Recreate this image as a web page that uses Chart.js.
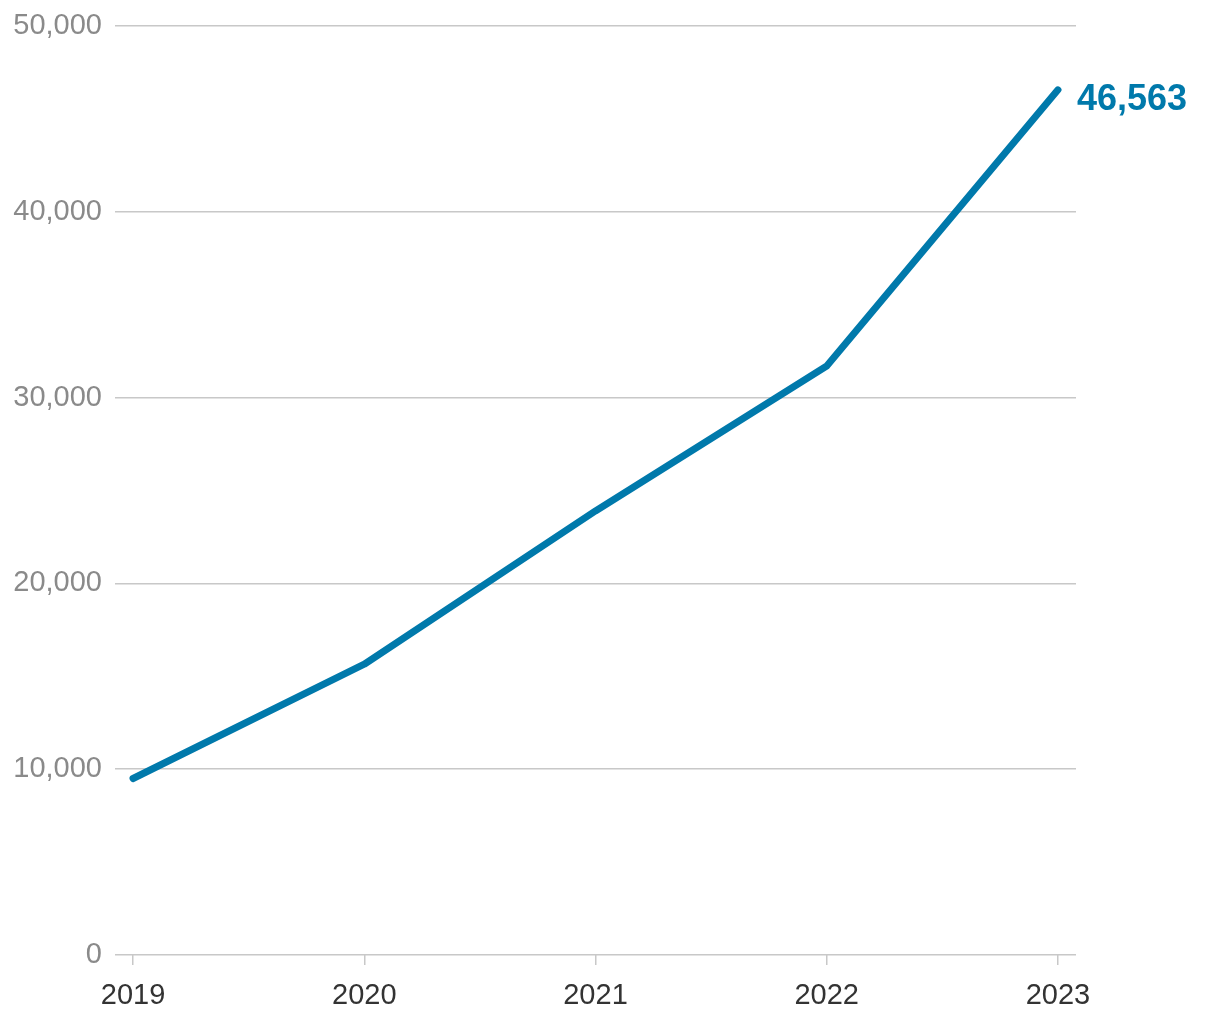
<!DOCTYPE html>
<html>
<head>
<meta charset="utf-8">
<script src="https://cdn.jsdelivr.net/npm/chart.js@4.4.1/dist/chart.umd.min.js"></script>
<style>
  body { margin: 0; background: #fff; }
  #wrap { width: 1220px; height: 1020px; position: relative; }
</style>
</head>
<body>
<div id="wrap"><canvas id="lineChart"></canvas></div>
<script>
// chart data
const years = [2019, 2020, 2021, 2022, 2023];
const values = [9500, 15650, 23900, 31700, 46563];
const yTicks = [0, 10000, 20000, 30000, 40000, 50000];

const lineColor = '#0079ab';

// label next to the last point
const lastValueLabel = {
    id: 'lastValueLabel',
    afterDatasetsDraw(chart) {
        const meta = chart.getDatasetMeta(0);
        const pt = meta.data[meta.data.length - 1];
        const ctx = chart.ctx;
        ctx.save();
        ctx.font = 'bold 36px "Liberation Sans", Arial, sans-serif';
        ctx.fillStyle = lineColor;
        ctx.textAlign = 'left';
        ctx.textBaseline = 'middle';
        ctx.fillText(values[values.length - 1].toLocaleString('en-US'), pt.x + 19, pt.y + 10);
        ctx.restore();
    }
};

new Chart(document.getElementById('lineChart').getContext('2d'), {
    type: 'line',
    data: {
        datasets: [{
            data: years.map((y, i) => ({ x: y, y: values[i] })),
            borderColor: lineColor,
            borderWidth: 7,
            borderCapStyle: 'round',
            borderJoinStyle: 'round',
            pointRadius: 0,
            tension: 0
        }]
    },
    options: {
        responsive: true,
        maintainAspectRatio: false,
        animation: false,
        layout: { padding: { top: 26, right: 144, bottom: 0, left: 0 } },
        plugins: { legend: { display: false }, tooltip: { enabled: false } },
        scales: {
            x: {
                type: 'linear',
                min: 2019 - 0.078,
                max: 2023 + 0.078,
                afterBuildTicks: scale => { scale.ticks = years.map(v => ({ value: v })); },
                afterFit: scale => { scale.height = 65; scale.paddingLeft = 0; scale.paddingRight = 0; },
                border: { display: false },
                grid: { drawOnChartArea: false, drawTicks: true, tickLength: 10, color: '#c8c8c8', lineWidth: 1.5 },
                ticks: {
                    callback: v => String(v),
                    color: '#333',
                    padding: 14,
                    maxRotation: 0,
                    font: { family: '"Liberation Sans", Arial, sans-serif', size: 29 }
                }
            },
            y: {
                min: 0,
                max: 50000,
                afterBuildTicks: scale => { scale.ticks = yTicks.map(v => ({ value: v })); },
                afterFit: scale => { scale.width = 115; scale.paddingTop = 0; scale.paddingBottom = 0; },
                border: { display: false },
                grid: { drawTicks: false, color: '#c8c8c8', lineWidth: 1.5 },
                ticks: {
                    callback: v => v.toLocaleString('en-US'),
                    color: '#8a8a8a',
                    padding: 13,
                    font: { family: '"Liberation Sans", Arial, sans-serif', size: 29 }
                }
            }
        }
    },
    plugins: [lastValueLabel]
});
</script>
</body>
</html>
